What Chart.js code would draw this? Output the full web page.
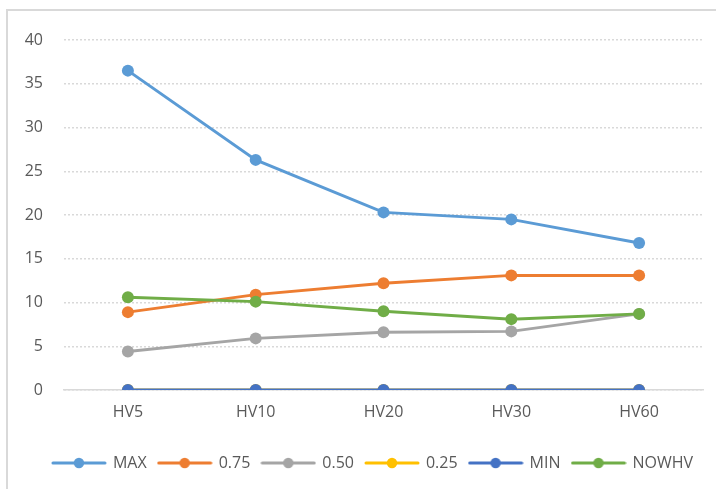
<!DOCTYPE html>
<html>
<head>
<meta charset="utf-8">
<script src="https://cdn.jsdelivr.net/npm/chart.js@4/dist/chart.umd.min.js"></script>
<style>
  html, body { margin: 0; padding: 0; background: #fff; overflow: hidden; }
  #wrap { position: relative; width: 716px; height: 489px; overflow: hidden; }
  #frame { position: absolute; left: 6px; top: 9px; width: 760px; height: 520px;
           border-top: 2px solid #d9d9d9; border-left: 2px solid #d9d9d9; }
  #box { position: absolute; left: 0; top: 0; width: 746px; height: 489px; }
</style>
</head>
<body>
<div id="wrap">
  <div id="frame"></div>
  <div id="box"><canvas id="hv-chart" width="746" height="489"></canvas></div>
</div>
<script>
// Volatility percentiles per window
const labels = ['HV5', 'HV10', 'HV20', 'HV30', 'HV60'];
const seriesNames = ['MAX', '0.75', '0.50', '0.25', 'MIN', 'NOWHV'];
const maxVals = [36.5, 26.3, 20.3, 19.5, 16.8];
const q75Vals = [8.9, 10.9, 12.2, 13.1, 13.1];
const q50Vals = [4.4, 5.9, 6.6, 6.7, 8.7];
const q25Vals = [0, 0, 0, 0, 0];
const minVals = [0, 0, 0, 0, 0];
const nowVals = [10.6, 10.1, 9.0, 8.1, 8.7];
const yTicks = [0, 5, 10, 15, 20, 25, 30, 35, 40];

const colors = ['#5B9BD5', '#ED7D31', '#A5A5A5', '#FFC000', '#4472C4', '#70AD47'];
const values = [maxVals, q75Vals, q50Vals, q25Vals, minVals, nowVals];
const FONT = "'Open Sans', sans-serif";

// legend marker: line with a dot in the middle
function makeMarker(color) {
    const c = document.createElement('canvas');
    c.width = 56; c.height = 12;
    const g = c.getContext('2d');
    g.strokeStyle = color;
    g.lineWidth = 3;
    g.lineCap = 'round';
    g.beginPath(); g.moveTo(2, 6); g.lineTo(54, 6); g.stroke();
    g.fillStyle = color;
    g.beginPath(); g.arc(28, 6, 5.2, 0, Math.PI * 2); g.fill();
    return c;
}
const markers = colors.map(makeMarker);

const datasets = seriesNames.map((name, i) => ({
    label: name,
    data: values[i],
    borderColor: colors[i],
    backgroundColor: colors[i],
    borderWidth: 3,
    pointRadius: 6,
    pointHoverRadius: 6,
    pointBorderWidth: 0,
    pointBackgroundColor: colors[i],
    tension: 0,
    order: seriesNames.length - i   // later series drawn on top
}));

const ctx = document.getElementById('hv-chart').getContext('2d');
new Chart(ctx, {
    type: 'line',
    data: { labels: labels, datasets: datasets },
    options: {
        responsive: false,
        animation: false,
        devicePixelRatio: 1,
        layout: { padding: { top: 40, bottom: 8, left: 0, right: 0 } },
        plugins: {
            tooltip: { enabled: false },
            legend: {
                position: 'bottom',
                labels: {
                    usePointStyle: true,
                    pointStyleWidth: 52,
                    boxHeight: 12,
                    padding: 12,
                    color: '#595959',
                    font: { family: FONT, size: 16 },
                    sort: (a, b) => a.datasetIndex - b.datasetIndex,
                    generateLabels: (chart) => {
                        const items = Chart.defaults.plugins.legend.labels.generateLabels(chart);
                        items.forEach(it => { it.pointStyle = markers[it.datasetIndex]; });
                        return items;
                    }
                }
            }
        },
        scales: {
            x: {
                offset: true,
                grid: { display: false, drawTicks: false },
                border: { display: true, color: '#d9d9d9', width: 1.5 },
                ticks: { color: '#595959', font: { family: FONT, size: 16 }, padding: 13, maxRotation: 0 },
                afterFit: (s) => { s.height = 53; }
            },
            y: {
                min: 0,
                max: 40,
                afterBuildTicks: (s) => { s.ticks = yTicks.map(v => ({ value: v })); },
                grid: { color: '#d9d9d9', lineWidth: 1.5, drawTicks: false },
                border: { display: false, dash: [2, 2] },
                ticks: { color: '#595959', font: { family: FONT, size: 16 }, padding: 21 },
                afterFit: (s) => { s.width = 64; }
            },
            yr: {
                position: 'right',
                display: true,
                grid: { display: false, drawTicks: false },
                border: { display: false },
                ticks: { display: false },
                afterFit: (s) => { s.width = 43; }
            }
        }
    }
});
</script>
</body>
</html>
